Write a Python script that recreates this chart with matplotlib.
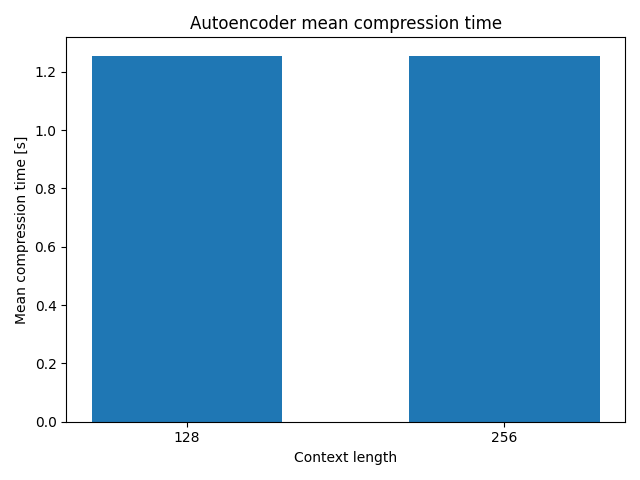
import matplotlib
matplotlib.use("Agg")
import matplotlib.pyplot as plt

contexts = ["128", "256"]
mean_times = [1.255, 1.255]

fig, ax = plt.subplots(figsize=(6.4, 4.8), dpi=100)
ax.bar(contexts, mean_times, width=0.6, color="#1f77b4")
ax.set_title("Autoencoder mean compression time")
ax.set_xlabel("Context length")
ax.set_ylabel("Mean compression time [s]")
fig.tight_layout()
fig.savefig("out.png", dpi=100)
